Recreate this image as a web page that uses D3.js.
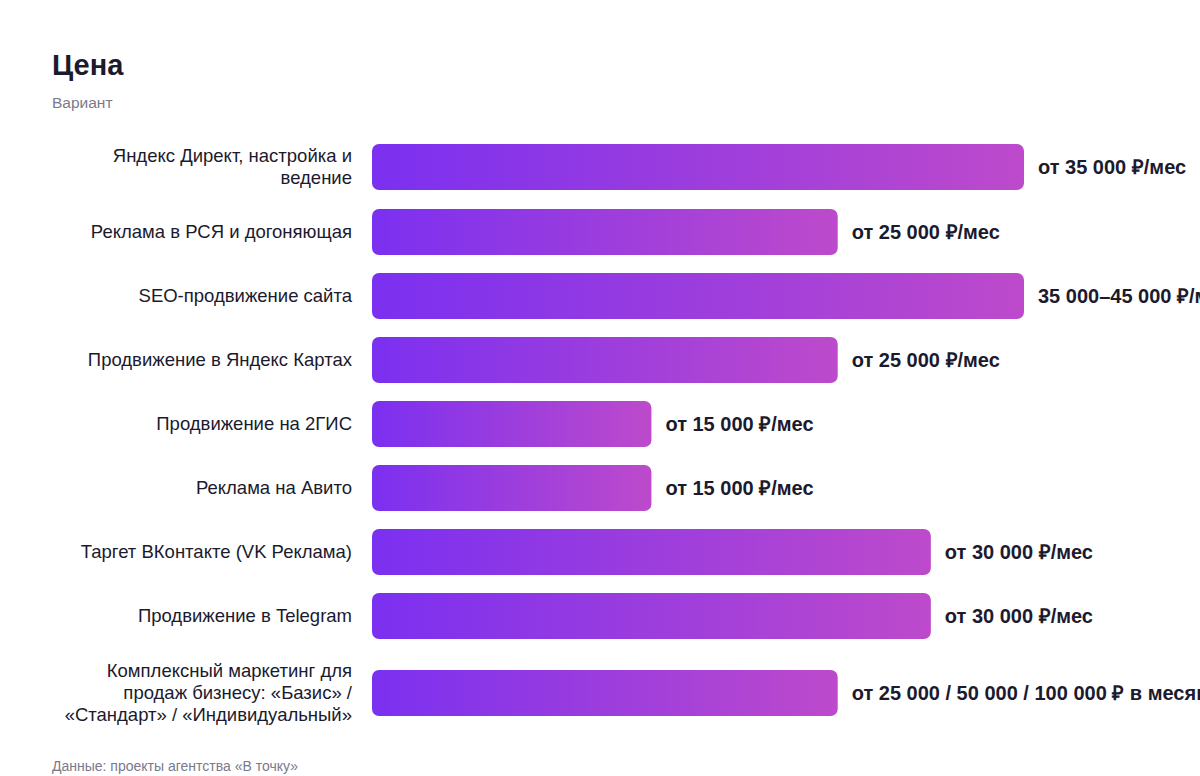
<!DOCTYPE html>
<html><head><meta charset="utf-8">
<script src="https://cdn.jsdelivr.net/npm/d3@7"></script>
<style>body{margin:0;background:#fff;overflow:hidden}</style>
</head><body><svg id="c" width="1200" height="776"></svg>
<script>
const categories=[["Яндекс Директ, настройка и","ведение"],["Реклама в РСЯ и догоняющая"],["SEO-продвижение сайта"],["Продвижение в Яндекс Картах"],["Продвижение на 2ГИС"],["Реклама на Авито"],["Таргет ВКонтакте (VK Реклама)"],["Продвижение в Telegram"],["Комплексный маркетинг для","продаж бизнесу: «Базис» /","«Стандарт» / «Индивидуальный»"]];
const values=[35000,25000,35000,25000,15000,15000,30000,30000,25000];
const valueLabels=["от 35 000 ₽/мес","от 25 000 ₽/мес","35 000–45 000 ₽/мес","от 25 000 ₽/мес","от 15 000 ₽/мес","от 15 000 ₽/мес","от 30 000 ₽/мес","от 30 000 ₽/мес","от 25 000 / 50 000 / 100 000 ₽ в месяц"];
const rowCenters=[167,232,296,360,424,488,552,616,693];

const svg=d3.select("#c"),F="Liberation Sans, Arial, sans-serif";
const x=d3.scaleLinear().domain([0,35000]).range([372,1024]);
const defs=svg.append("defs");
const g=defs.append("linearGradient").attr("id","gr").attr("x1","0%").attr("x2","100%");
g.append("stop").attr("offset","0%").attr("stop-color","#7b30f0");
g.append("stop").attr("offset","100%").attr("stop-color","#bd4acb");
svg.append("text").attr("x",52).attr("y",75).attr("font-family",F).attr("font-weight","bold").attr("font-size",29).attr("fill","#1b1a2e").text("Цена");
svg.append("text").attr("x",52).attr("y",108).attr("font-family",F).attr("font-size",15.5).attr("fill","#7a7a8c").text("Вариант");
const h=46;
values.forEach((v,i)=>{
  const c=rowCenters[i];
  svg.append("rect").attr("x",x(0)).attr("y",c-h/2).attr("width",x(v)-x(0)).attr("height",h).attr("rx",7).attr("fill","url(#gr)");
  svg.append("text").attr("x",x(v)+14).attr("y",c+7).attr("font-family",F).attr("font-weight","bold").attr("font-size",20).attr("fill","#1b1a2e").text(valueLabels[i]);
  const lines=categories[i],lh=22;
  lines.forEach((l,j)=>{
    svg.append("text").attr("x",352).attr("y",c+6+(j-(lines.length-1)/2)*lh).attr("text-anchor","end").attr("font-family",F).attr("font-size",18.5).attr("fill","#1b1a2e").text(l);
  });
});
svg.append("text").attr("x",52).attr("y",771).attr("font-family",F).attr("font-size",14).attr("fill","#7a7a8c").text("Данные: проекты агентства «В точку»");
</script></body></html>
